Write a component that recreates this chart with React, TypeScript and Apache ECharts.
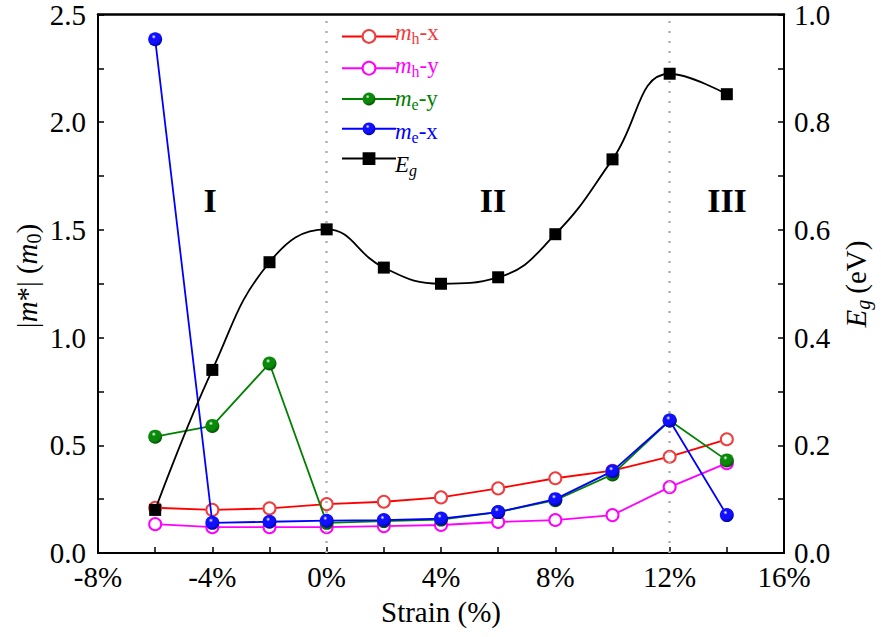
import React, { useEffect, useRef } from "react";
import * as echarts from "echarts";

const strain = [-6, -4, -2, 0, 2, 4, 6, 8, 10, 12, 14];
const mhx = [0.21, 0.2, 0.207, 0.227, 0.238, 0.258, 0.3, 0.347, 0.382, 0.447, 0.528];
const mhy = [0.134, 0.12, 0.12, 0.12, 0.125, 0.13, 0.144, 0.153, 0.176, 0.306, 0.417];
const mey = [0.54, 0.59, 0.88, 0.14, 0.148, 0.155, 0.19, 0.245, 0.365, 0.615, 0.43];
const mex = [2.385, 0.14, 0.145, 0.15, 0.153, 0.16, 0.19, 0.25, 0.38, 0.615, 0.176];
const eg = [0.08, 0.34, 0.54, 0.601, 0.53, 0.5, 0.512, 0.592, 0.731, 0.89, 0.852];
const regionLabels = ["I", "II", "III"];
const dividers = [0, 12];
const seriesNames = ["mh-x", "mh-y", "me-y", "me-x", "Eg"];

const FONT = "Times New Roman";

type Piece = { t: string; size: number; it?: boolean; dy?: number; gap?: number };

const legendPieces: Piece[][] = [
  [{ t: "m", size: 23, it: true }, { t: "h", size: 16, dy: 6 }, { t: "-x", size: 23 }],
  [{ t: "m", size: 23, it: true }, { t: "h", size: 16, dy: 6 }, { t: "-y", size: 23 }],
  [{ t: "m", size: 23, it: true }, { t: "e", size: 16, dy: 6 }, { t: "-y", size: 23 }],
  [{ t: "m", size: 23, it: true }, { t: "e", size: 16, dy: 6 }, { t: "-x", size: 23 }],
  [{ t: "E", size: 23, it: true }, { t: "g", size: 16, it: true, dy: 6 }],
];
const legendColors = ["#f03c3c", "#ff00ff", "#008000", "#0000ff", "#000000"];
const leftName: Piece[] = [
  { t: "|", size: 29 },
  { t: "m", size: 29, it: true },
  { t: "*|", size: 29 },
  { t: "(", size: 29, gap: 7 },
  { t: "m", size: 29, it: true },
  { t: "0", size: 20, dy: 7 },
  { t: ")", size: 29 },
];
const rightName: Piece[] = [
  { t: "E", size: 29, it: true },
  { t: "g", size: 20, it: true, dy: 7 },
  { t: "(eV)", size: 29, gap: 6 },
];

const sphere = (mid: string, dark: string) => ({
  type: "radial",
  x: 0.4,
  y: 0.32,
  r: 0.7,
  colorStops: [
    { offset: 0, color: "#ffffff" },
    { offset: 0.22, color: mid },
    { offset: 0.65, color: mid },
    { offset: 1, color: dark },
  ],
});

const pairs = (ys: number[]) => strain.map((x, i) => [x, ys[i]]);

export default function App() {
  const ref = useRef<HTMLDivElement>(null);
  useEffect(() => {
    if (!ref.current) return;
    const ctx = document.createElement("canvas").getContext("2d");
    const measure = (p: Piece) => {
      if (!ctx) return p.t.length * p.size * 0.5;
      ctx.font = `${p.it ? "italic " : ""}${p.size}px "${FONT}"`;
      return ctx.measureText(p.t).width;
    };
    const layoutPieces = (pieces: Piece[], color: string, centered: boolean) => {
      const widths = pieces.map(measure);
      const total = widths.reduce((a, b) => a + b, 0) + pieces.reduce((a, p) => a + (p.gap || 0), 0);
      let x = centered ? -total / 2 : 0;
      return pieces.map((p, k) => {
        x += p.gap || 0;
        const el = {
          type: "text",
          x,
          y: p.dy || 0,
          style: {
            text: p.t,
            fontFamily: FONT,
            fontSize: p.size,
            fontStyle: p.it ? "italic" : "normal",
            fill: color,
            align: "left",
            verticalAlign: "middle",
          },
        };
        x += widths[k];
        return el;
      });
    };

    const chart = echarts.init(ref.current, undefined, { renderer: "svg" });
    const axisLine = { show: true, onZero: false, lineStyle: { color: "#000", width: 2 } };
    const labelStyle = { fontFamily: FONT, fontSize: 29, color: "#000" };
    const tick = { inside: true, length: 6, lineStyle: { width: 1.5, color: "#000" } };
    const minor = { show: true, splitNumber: 2, length: 6, lineStyle: { width: 1.5, color: "#000" } };
    const regionX = [210, 493, 727];
    const legendRowY = [32, 65, 98, 131, 164];

    const graphic: any[] = [
      ...regionLabels.map((t, k) => ({
        type: "text",
        x: regionX[k],
        y: 200,
        style: {
          text: t,
          align: "center",
          verticalAlign: "middle",
          fontFamily: FONT,
          fontSize: 34,
          fontWeight: "bold",
          fill: "#000",
        },
      })),
      ...legendPieces.map((pcs, k) => ({
        type: "group",
        x: 395,
        y: legendRowY[k],
        children: layoutPieces(pcs, legendColors[k], false),
      })),
      { type: "group", x: 27, y: 276, rotation: Math.PI / 2, children: layoutPieces(leftName, "#000", true) },
      { type: "group", x: 856, y: 284, rotation: Math.PI / 2, children: layoutPieces(rightName, "#000", true) },
    ];

    const option: any = {
      animation: false,
      backgroundColor: "#fff",
      grid: { left: 98, right: 97, top: 14, bottom: 84 },
      xAxis: [
        {
          type: "value",
          min: -8,
          max: 16,
          interval: 4,
          axisLine,
          axisTick: tick,
          minorTick: minor,
          splitLine: { show: false },
          axisLabel: { ...labelStyle, margin: 9, formatter: (v: number) => `${v}%` },
          name: "Strain (%)",
          nameLocation: "middle",
          nameGap: 44,
          nameTextStyle: { fontFamily: FONT, fontSize: 29, color: "#000" },
        },
        {
          type: "value",
          position: "top",
          min: -8,
          max: 16,
          interval: 4,
          axisLine: { show: true, onZero: false, lineStyle: { color: "#000", width: 2.5 } },
          axisTick: { show: false },
          axisLabel: { show: false },
          splitLine: { show: false },
        },
      ],
      yAxis: [
        {
          type: "value",
          min: 0,
          max: 2.5,
          interval: 0.5,
          axisLine,
          axisTick: tick,
          minorTick: minor,
          splitLine: { show: false },
          axisLabel: { ...labelStyle, margin: 12, formatter: (v: number) => v.toFixed(1) },
        },
        {
          type: "value",
          min: 0,
          max: 1,
          interval: 0.2,
          position: "right",
          axisLine,
          axisTick: tick,
          minorTick: minor,
          splitLine: { show: false },
          axisLabel: { ...labelStyle, margin: 10, formatter: (v: number) => v.toFixed(1) },
        },
      ],
      legend: {
        orient: "vertical",
        left: 336,
        top: 24,
        itemWidth: 54,
        itemHeight: 16,
        itemGap: 17,
        formatter: () => "",
        textStyle: { fontFamily: FONT, fontSize: 12, lineHeight: 12 },
        data: seriesNames,
      },
      graphic,
      series: [
        {
          name: seriesNames[0],
          type: "line",
          data: pairs(mhx),
          symbol: "circle",
          symbolSize: 12,
          lineStyle: { color: "#ff0000", width: 1.8 },
          itemStyle: { color: "#fff", borderColor: "#f03c3c", borderWidth: 2 },
          markLine: {
            silent: true,
            symbol: ["none", "none"],
            label: { show: false },
            lineStyle: { color: "#b0b0b0", type: [2, 8], width: 2.5 },
            data: dividers.map((d) => ({ xAxis: d })),
          },
          z: 2,
        },
        {
          name: seriesNames[1],
          type: "line",
          data: pairs(mhy),
          symbol: "circle",
          symbolSize: 12,
          lineStyle: { color: "#ff00ff", width: 1.8 },
          itemStyle: { color: "#fff", borderColor: "#ff00ff", borderWidth: 2 },
          z: 3,
        },
        {
          name: seriesNames[2],
          type: "line",
          data: pairs(mey),
          symbol: "circle",
          symbolSize: 14,
          lineStyle: { color: "#008000", width: 1.8 },
          itemStyle: { color: sphere("#0a8a0a", "#004d00") },
          z: 4,
        },
        {
          name: seriesNames[3],
          type: "line",
          data: pairs(mex),
          symbol: "circle",
          symbolSize: 14,
          lineStyle: { color: "#0000ff", width: 1.8 },
          itemStyle: { color: sphere("#1010ff", "#00009a") },
          z: 5,
        },
        {
          name: seriesNames[4],
          type: "line",
          yAxisIndex: 1,
          data: pairs(eg),
          smooth: 0.45,
          symbol: "rect",
          symbolSize: 12,
          lineStyle: { color: "#000", width: 1.8 },
          itemStyle: { color: "#000" },
          z: 6,
        },
      ],
    };
    chart.setOption(option);
    return () => chart.dispose();
  }, []);
  return (
    <div
      ref={ref}
      style={{ position: "fixed", left: 0, top: 0, width: 881, height: 637, background: "#fff" }}
    />
  );
}
